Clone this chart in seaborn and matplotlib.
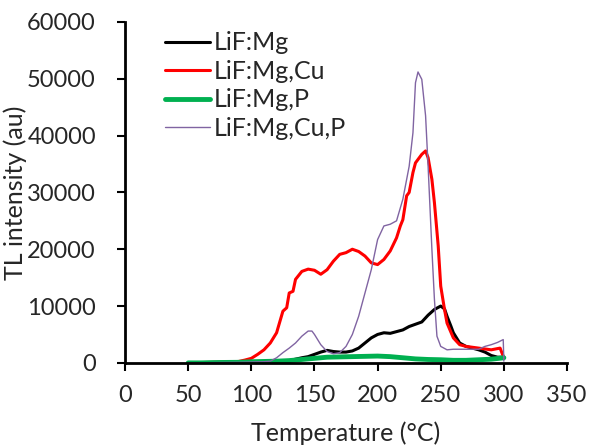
import pandas as pd
import matplotlib
matplotlib.use("Agg")
import matplotlib.pyplot as plt
import seaborn as sns

# TL glow curves (temperature in °C, intensity in au)
temp_mg = [50, 60, 70, 80, 90, 100, 110, 120, 130, 140, 145, 150, 155, 160, 165, 170, 175, 180,
           185, 190, 195, 200, 205, 210, 215, 220, 225, 230, 235, 240, 245, 250, 253, 255, 258,
           260, 265, 270, 275, 280, 285, 290, 295, 300]
tl_mg = [0, 0, 50, 80, 100, 150, 200, 250, 400, 900, 1100, 1500, 1900, 2200, 2000, 1900, 1900, 2100,
         2600, 3500, 4400, 5000, 5300, 5200, 5500, 5800, 6400, 6800, 7200, 8400, 9400, 10000, 9500,
         8200, 6500, 5300, 3500, 2900, 2600, 2300, 1900, 1300, 1000, 1000]

temp_cu = [50, 60, 70, 80, 90, 95, 100, 105, 110, 115, 120, 125, 128, 130, 133, 135, 140, 145, 150,
           155, 160, 165, 170, 175, 180, 185, 190, 195, 200, 205, 210, 215, 218, 220, 223, 225, 228,
           230, 235, 238, 240, 243, 245, 248, 250, 253, 255, 260, 265, 270, 280, 290, 297, 300]
tl_cu = [0, 50, 100, 150, 250, 500, 800, 1500, 2300, 3500, 5300, 9100, 9700, 12300, 12600, 14700,
         16100, 16500, 16300, 15600, 16400, 17900, 19100, 19400, 20000, 19600, 18800, 17600, 17300,
         18200, 19700, 22000, 24100, 25200, 29400, 30000, 33500, 35200, 36700, 37300, 36100, 32300,
         28200, 20600, 13500, 9400, 7000, 4400, 3200, 2900, 2600, 2300, 2600, 900]

temp_p = [50, 60, 70, 80, 90, 100, 110, 120, 130, 140, 150, 160, 170, 180, 190, 200, 210, 220, 230,
          240, 250, 260, 270, 280, 290, 300]
tl_p = [0, 0, 50, 80, 100, 200, 250, 300, 400, 600, 800, 1000, 1050, 1100, 1150, 1200, 1100, 900,
        700, 600, 550, 450, 450, 550, 650, 900]

temp_cup = [50, 60, 70, 80, 90, 100, 110, 115, 120, 125, 130, 135, 140, 145, 148, 150, 155, 160, 165,
            170, 175, 180, 185, 190, 195, 200, 205, 210, 215, 220, 225, 228, 230, 232, 235, 238, 240,
            243, 245, 247, 250, 255, 260, 270, 280, 285, 290, 295, 299.5, 300]
tl_cup = [0, 0, 50, 80, 100, 150, 200, 300, 900, 1800, 2600, 3500, 4700, 5600, 5600, 5000, 3200,
          2000, 1600, 1800, 2900, 5000, 8200, 12300, 16400, 21700, 24100, 24400, 25000, 28800, 34600,
          40500, 49300, 51200, 49900, 43500, 34600, 20000, 11200, 4700, 2900, 2300, 2400, 2400, 2400,
          2900, 3200, 3600, 4100, 300]

series = [
    ("LiF:Mg", temp_mg, tl_mg, "black", 2.2),
    ("LiF:Mg,Cu", temp_cu, tl_cu, "#FF0000", 2.2),
    ("LiF:Mg,P", temp_p, tl_p, "#00B050", 3.5),
    ("LiF:Mg,Cu,P", temp_cup, tl_cup, "#8064A2", 1.0),
]

sns.set_style("ticks")
plt.rcParams['font.family'] = ['Lato', 'DejaVu Sans']

fig = plt.figure(figsize=(5.9, 4.48), dpi=100)
ax = fig.add_axes([0.212, 0.19, 0.749, 0.761])

for name, t, v, color, lw in series:
    df = pd.DataFrame({"Temperature": t, "TL": v})
    sns.lineplot(data=df, x="Temperature", y="TL", color=color, linewidth=lw, label=name, ax=ax,
                 estimator=None, sort=False)

ax.set_xlim(0, 350)
ax.set_ylim(0, 60000)
ax.set_xticks(range(0, 351, 50))
ax.set_yticks(range(0, 60001, 10000))
ax.tick_params(labelsize=17, width=1.5, length=6, color="black")
ax.tick_params(axis="x", pad=10)
ax.tick_params(axis="y", pad=15)
for s in ["left", "bottom"]:
    ax.spines[s].set_linewidth(2)
    ax.spines[s].set_color("black")
sns.despine(ax=ax)

ax.set_xlabel("Temperature (°C)", fontsize=18, labelpad=11)
ax.set_ylabel("TL intensity (au)", fontsize=18, labelpad=0)

leg = ax.legend(loc="upper left", bbox_to_anchor=(0.09, 0.972), frameon=False, fontsize=18,
                handlelength=1.8, handletextpad=0.15, labelspacing=0.22, borderaxespad=0,
                borderpad=0)

fig.savefig("out.png", dpi=100)
